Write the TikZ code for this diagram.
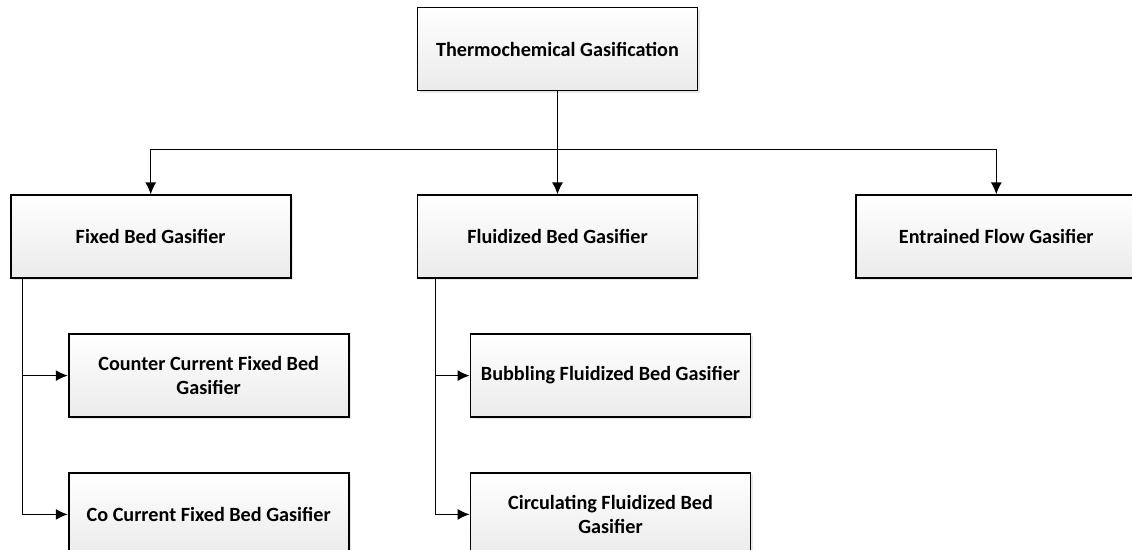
\documentclass[tikz,border=0pt]{standalone}
\usepackage{fontspec}
\setmainfont{Carlito}
\usepackage{tikz}
\usetikzlibrary{arrows.meta,positioning,shadows}

\tikzset{
  box/.style={draw=black,line width=1.8pt,rectangle,minimum width=280pt,minimum height=83pt,
    top color=white,bottom color=gray!16,align=center,inner sep=0pt,
    font=\fontsize{20.2}{24}\selectfont\bfseries,
    drop shadow={shadow xshift=2pt,shadow yshift=-2pt,fill=gray!35}},
  link/.style={-{Latex[length=12pt,width=11pt]},line width=1.3pt}
}

\begin{document}
\begin{tikzpicture}[x=1pt,y=1pt]
    \useasboundingbox (0,0) rectangle (1132,-549);
    \node[box]  (thermo)     at (557.5,-49)   {Thermochemical Gasification};
    \node[box]  (fluid)      [below=103pt of thermo]  {Fluidized Bed Gasifier};
    \node[box]  (fixed)      [left=125pt of fluid]    {Fixed Bed Gasifier};
    \node[box]  (entrained)  [right=157pt of fluid]   {Entrained Flow Gasifier};
    \node[box]  (counter)    [below=54pt of fixed.south west,anchor=north west,xshift=58pt] {Counter Current Fixed Bed\\Gasifier};
    \node[box]  (cocurrent)  [below=54pt of counter]  {Co Current Fixed Bed Gasifier};
    \node[box]  (bubbling)   [below=54pt of fluid.south west,anchor=north west,xshift=53pt] {Bubbling Fluidized Bed Gasifier};
    \node[box]  (circulating)[below=54pt of bubbling] {Circulating Fluidized Bed\\Gasifier};

    \coordinate[below=58pt of thermo.south] (hub);
    \coordinate (fixedroot) at ([xshift=13pt]fixed.south west);
    \coordinate (fluidroot) at ([xshift=19pt]fluid.south west);

    \draw[link] (thermo) -- (fluid);
    \draw[link] (hub) -| (fixed.north);
    \draw[link] (hub) -| (entrained.north);
    \draw[link] (fixedroot) |- (counter.west);
    \draw[link] (fixedroot) |- (cocurrent.west);
    \draw[link] (fluidroot) |- (bubbling.west);
    \draw[link] (fluidroot) |- (circulating.west);
\end{tikzpicture}
\end{document}
